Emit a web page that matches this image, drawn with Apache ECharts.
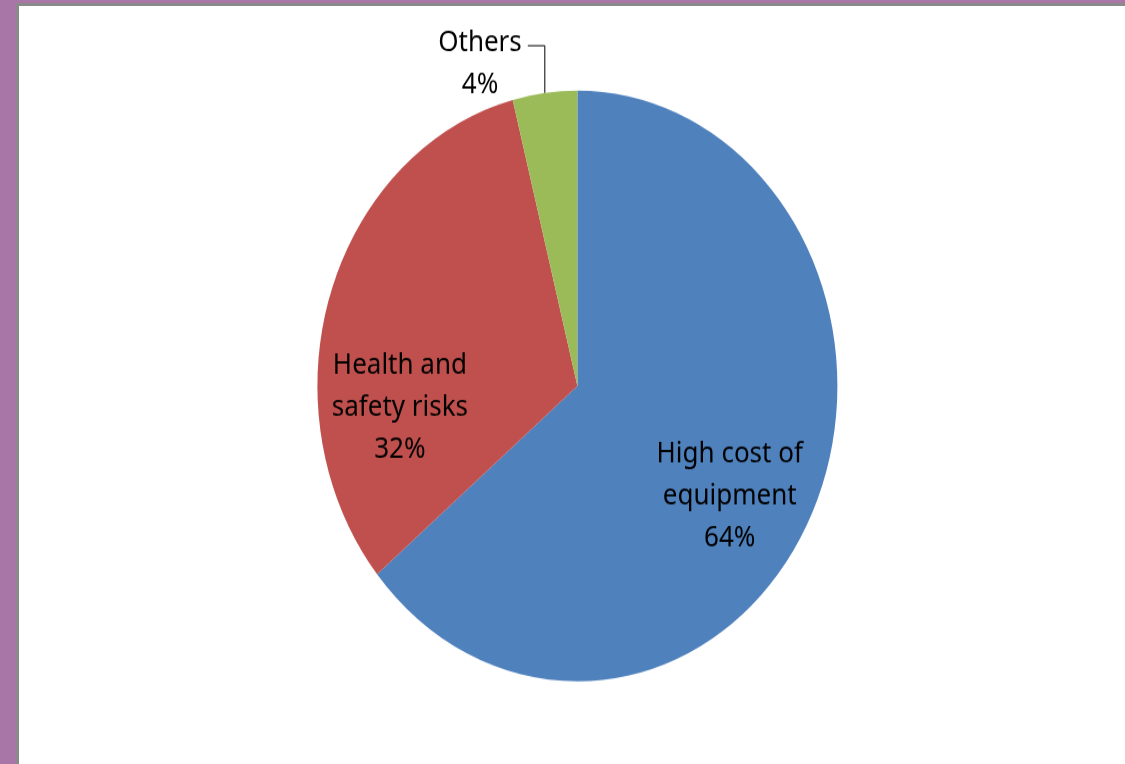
<!DOCTYPE html>
<html>
<head>
<meta charset="utf-8">
<script src="https://cdn.jsdelivr.net/npm/echarts@6/dist/echarts.min.js"></script>
<style>
  html, body { margin: 0; padding: 0; width: 1125px; height: 764px; overflow: hidden; background: #ffffff; }
  #frameLeft { position: absolute; left: 0; top: 0; width: 16px; height: 764px; background: #A877A8; }
  #frameTop { position: absolute; left: 0; top: 0; width: 1125px; height: 3px; background: #A877A8; }
  #edgeLeft { position: absolute; left: 16px; top: 3px; width: 3px; height: 761px; background: #8A8A8A; }
  #edgeTop { position: absolute; left: 16px; top: 3px; width: 1109px; height: 3px; background: #8A8A8A; }
  /* the plot is drawn on a shorter canvas and stretched vertically */
  #chart { position: absolute; left: 0; top: 0; width: 1125px; height: 672.5px;
           transform: scaleY(1.136); transform-origin: 0 0; }
</style>
</head>
<body>
<div id="frameLeft"></div>
<div id="frameTop"></div>
<div id="edgeLeft"></div>
<div id="edgeTop"></div>
<div id="chart"></div>
<script>
// Reasons given for not using protective equipment (% of respondents)
const categories = ['High cost of\nequipment', 'Health and\nsafety risks', 'Others'];
const values = [64, 32, 4];

const sliceColors = ['#4F81BD', '#C0504D', '#9BBB59'];
const labelPlacement = ['inside', 'inside', 'outside'];
// small shifts that move the inside labels toward the rim
const labelNudge = { 0: [32, 40], 1: [-51, 60] };
const leaderTail = 17;

const chart = echarts.init(document.getElementById('chart'), null, { renderer: 'canvas' });

const textFont = { fontFamily: '"Noto Sans", sans-serif', fontSize: 26, color: '#000000' };

chart.setOption({
  animation: false,
  backgroundColor: 'transparent',
  series: [{
    type: 'pie',
    center: [577.4, 339.8],
    radius: [0, 260],
    startAngle: 90,
    clockwise: true,
    avoidLabelOverlap: false,
    emphasis: { disabled: true },
    itemStyle: { borderWidth: 0 },
    labelLine: {
      show: true,
      length: 42,
      length2: leaderTail,
      smooth: false,
      lineStyle: { color: '#000000', width: 1 }
    },
    labelLayout: function (params) {
      const n = labelNudge[params.dataIndex];
      if (n) return { dx: n[0], dy: n[1] };
      const pts = params.labelLinePoints;
      if (!pts) return undefined;
      // leader rises straight up from the rim, then turns toward the text
      const start = pts[0];
      const elbow = [start[0], pts[1][1]];
      const end = [start[0] - leaderTail, pts[1][1]];
      return { labelLinePoints: [start, elbow, end], dx: end[0] - pts[2][0] };
    },
    data: categories.map(function (name, i) {
      const outside = labelPlacement[i] === 'outside';
      return {
        name: name,
        value: values[i],
        itemStyle: { color: sliceColors[i] },
        label: outside ? {
          position: 'outside',
          distanceToLabelLine: 6,
          padding: [32, 0, 0, 0],
          formatter: function (p) { return '{t|' + p.name + '}\n{t|' + Math.round(p.percent) + '%}'; },
          rich: { t: Object.assign({ align: 'center', lineHeight: 37 }, textFont) }
        } : {
          position: 'inside',
          lineHeight: 37,
          fontFamily: textFont.fontFamily,
          fontSize: textFont.fontSize,
          color: textFont.color,
          formatter: function (p) { return p.name + '\n' + Math.round(p.percent) + '%'; }
        },
        labelLine: { show: outside }
      };
    })
  }]
});
</script>
</body>
</html>
